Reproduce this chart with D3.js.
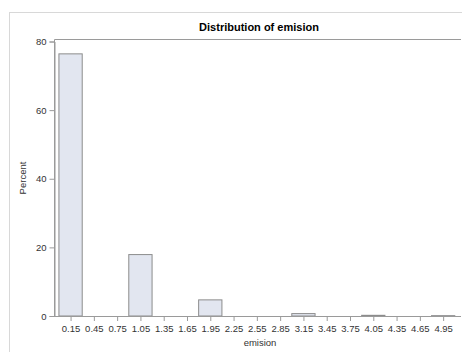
<!DOCTYPE html>
<html>
<head>
<meta charset="utf-8">
<script src="https://cdn.jsdelivr.net/npm/d3@7"></script>
<style>
  html, body { margin: 0; padding: 0; background: #fff; }
  svg { display: block; }
  text { font-family: "Liberation Sans", Arial, sans-serif; fill: #333; }
</style>
</head>
<body>
<script>
// Histogram bins: midpoints and percent of observations in each bin
const binMids = [0.15, 0.45, 0.75, 1.05, 1.35, 1.65, 1.95, 2.25, 2.55, 2.85, 3.15, 3.45, 3.75, 4.05, 4.35, 4.65, 4.95];
const percents = [76.4, 0, 0, 17.9, 0, 0, 4.7, 0, 0, 0, 0.7, 0, 0, 0.2, 0, 0, 0.1];
const binWidth = 0.3;
const yTicks = [0, 20, 40, 60, 80];
const xTickLabels = ["0.15", "0.45", "0.75", "1.05", "1.35", "1.65", "1.95", "2.25", "2.55", "2.85", "3.15", "3.45", "3.75", "4.05", "4.35", "4.65", "4.95"];

const W = 462, H = 352;
const svg = d3.select("body").append("svg").attr("width", W).attr("height", H);

// outer graph border
svg.append("rect")
  .attr("x", 9.5).attr("y", 12.5).attr("width", W).attr("height", H)
  .attr("fill", "none").attr("stroke", "#d8d8d8");

const plotLeft = 54.5, plotRight = 461, plotTop = 39.5, plotBottom = 316;

const x = d3.scaleLinear().domain([-0.057, 5.18]).range([plotLeft, plotRight]);
const y = d3.scaleLinear().domain([0, 80]).range([plotBottom, 41.5]);

// bars
svg.append("g").selectAll("rect")
  .data(binMids.map((m, i) => ({ m, v: percents[i] })))
  .join("rect")
  .attr("x", d => x(d.m - binWidth / 2))
  .attr("width", d => x(d.m + binWidth / 2) - x(d.m - binWidth / 2))
  .attr("y", d => y(d.v))
  .attr("height", d => y(0) - y(d.v))
  .attr("fill", "#e2e6f0")
  .attr("stroke", "#8c8c8c")
  .attr("stroke-width", 1);

// plot frame (top and axes)
svg.append("path")
  .attr("d", `M${plotLeft},${plotBottom}V${plotTop}H${plotRight}`)
  .attr("fill", "none").attr("stroke", "#9a9a9a");

// y axis
const yAxis = svg.append("g")
  .attr("transform", `translate(${plotLeft},0)`)
  .call(d3.axisLeft(y).tickValues(yTicks).tickSize(5).tickPadding(3));
yAxis.select(".domain").attr("stroke", "#9a9a9a");
yAxis.selectAll(".tick line").attr("stroke", "#9a9a9a");
yAxis.selectAll(".tick text").attr("font-size", 9.5).attr("fill", "#333")
  .attr("font-family", "Liberation Sans, Arial, sans-serif");

// x axis
const xAxis = svg.append("g")
  .attr("transform", `translate(0,${plotBottom})`)
  .call(d3.axisBottom(x).tickValues(binMids).tickFormat((d, i) => xTickLabels[i]).tickSize(5).tickPadding(4));
xAxis.select(".domain").attr("stroke", "#9a9a9a").attr("d", `M${plotLeft},0.5H${plotRight}`);
xAxis.selectAll(".tick line").attr("stroke", "#9a9a9a");
xAxis.selectAll(".tick text").attr("font-size", 9.5).attr("fill", "#333")
  .attr("font-family", "Liberation Sans, Arial, sans-serif");

// titles
svg.append("text")
  .attr("x", 259).attr("y", 31)
  .attr("text-anchor", "middle")
  .attr("font-size", 11).attr("font-weight", "bold")
  .style("fill", "#000")
  .text("Distribution of emision");

svg.append("text")
  .attr("x", 260).attr("y", 346)
  .attr("text-anchor", "middle")
  .attr("font-size", 9.5)
  .text("emision");

svg.append("text")
  .attr("transform", `translate(26,178) rotate(-90)`)
  .attr("text-anchor", "middle")
  .attr("font-size", 9.5)
  .text("Percent");
</script>
</body>
</html>
